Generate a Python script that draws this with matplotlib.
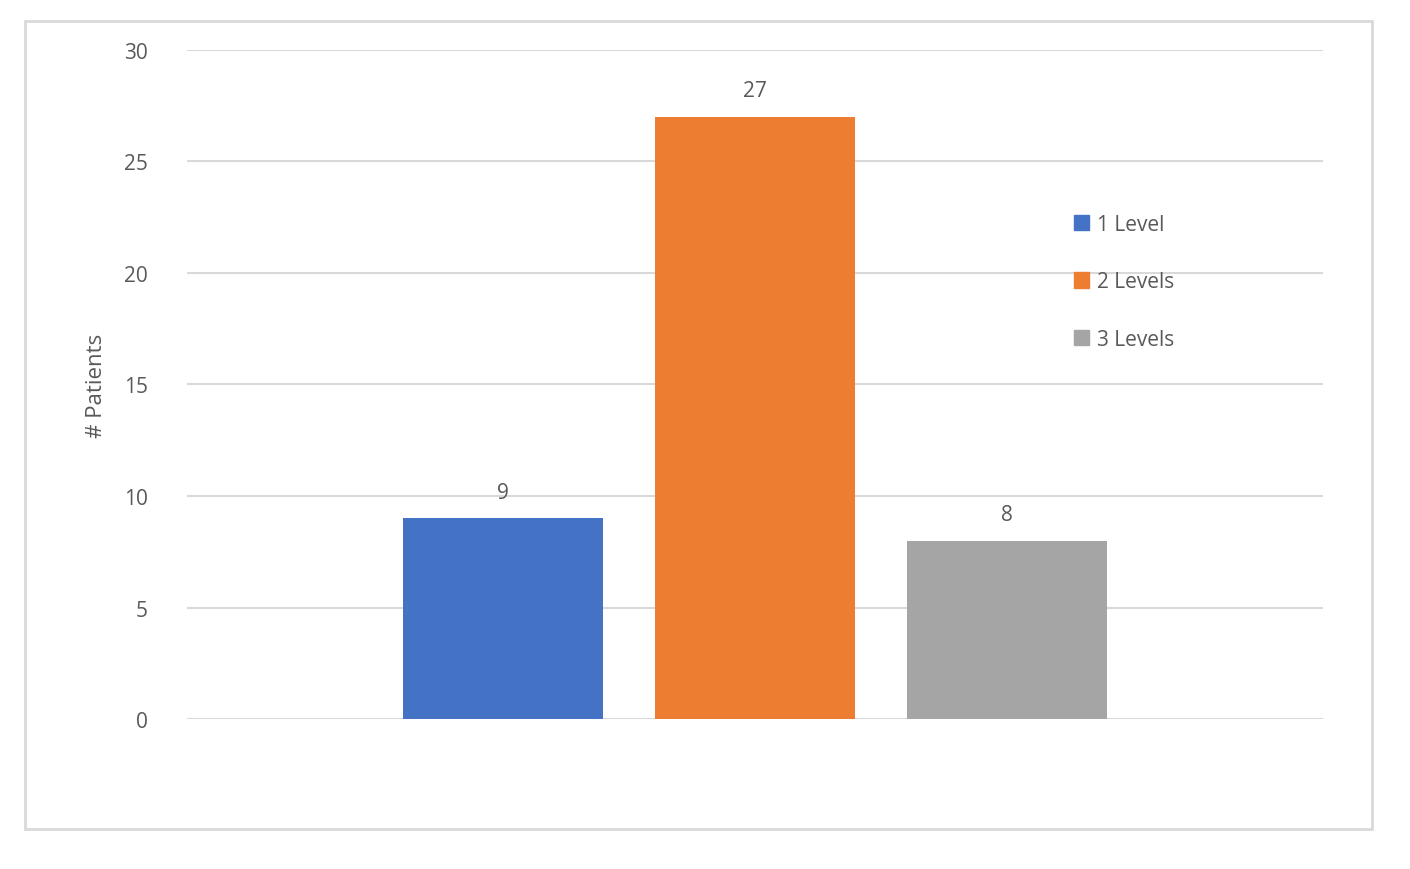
import matplotlib
matplotlib.use("Agg")
import matplotlib.pyplot as plt
import matplotlib.patches as mpatches

categories = ["1 Level", "2 Levels", "3 Levels"]
patients = [9, 27, 8]
colors = ["#4472c4", "#ed7d31", "#a5a5a5"]

TEXT = "#595959"
GRID = "#d9d9d9"
plt.rcParams["font.family"] = ["Open Sans", "DejaVu Sans"]

fig = plt.figure(figsize=(14.1, 8.7), dpi=100)
fig.patches.append(mpatches.Rectangle(
    (25 / 1410, 1 - 830 / 870), 1347 / 1410, 808 / 870,
    transform=fig.transFigure, fill=False, edgecolor=GRID, linewidth=2))

ax = fig.add_axes([0.1326, 0.1724, 0.8057, 0.769])
x = list(range(len(categories)))
bars = ax.bar(x, patients, width=0.79, color=colors, zorder=3)
for b, v in zip(bars, patients):
    ax.text(b.get_x() + b.get_width() / 2, v + 0.7, str(v),
            ha="center", va="bottom", fontsize=15, color=TEXT)

ax.set_xlim(-1.254, 3.254)
ax.set_ylim(0, 30)
ax.set_yticks(range(0, 31, 5))
ax.set_xticks([])
ax.grid(axis="y", color=GRID, linewidth=1.5, zorder=0)
for s in ax.spines.values():
    s.set_visible(False)
ax.tick_params(axis="y", length=0, labelsize=15, labelcolor=TEXT, pad=28)
ax.set_ylabel("# Patients", fontsize=16, color=TEXT, labelpad=12)

handles = [mpatches.Patch(color=c, label=l) for c, l in zip(colors, categories)]
fig.legend(handles=handles, loc="upper left",
           bbox_to_anchor=(1055 / 1410, 1 - 196 / 870), frameon=False,
           fontsize=15, labelcolor=TEXT, handlelength=0.75, handleheight=0.75,
           handletextpad=0.35, labelspacing=1.75)

fig.savefig("out.png", dpi=100, facecolor="white")
